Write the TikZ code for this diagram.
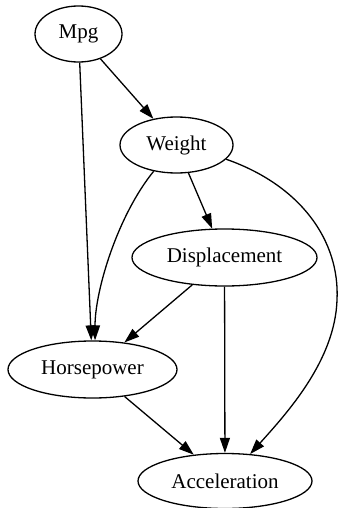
\documentclass[tikz,border=0pt]{standalone}
\usepackage{fontspec}
\setmainfont{Liberation Serif}
\usetikzlibrary{arrows.meta,shapes.geometric}
\begin{document}
\begin{tikzpicture}[x=1pt,y=-1pt,
  var/.style={draw, ellipse, line width=1.3pt, inner sep=0pt, font=\fontsize{21}{25}\selectfont},
  edge/.style={line width=1.3pt, -{Triangle[length=15pt,width=10pt]}}]
\useasboundingbox (0,0) rectangle (338,508);
\node[var, minimum width=87pt, minimum height=56pt] (mpg) at (78.5,34) {Mpg};
\node[var, minimum width=113pt, minimum height=56pt] (wt) at (176.5,145) {Weight};
\node[var, minimum width=185pt, minimum height=57pt] (disp) at (224.5,257.5) {Displacement};
\node[var, minimum width=169pt, minimum height=57pt] (hp) at (92.5,369.5) {Horsepower};
\node[var, minimum width=174pt, minimum height=55pt] (acc) at (225,481) {Acceleration};
\draw[edge] (mpg) -- (wt);
\draw[edge] (mpg) -- (hp);
\draw[edge] (wt) -- (disp);
\draw[edge] (wt.229) .. controls (118,215) and (95,290) .. (hp.85);
\draw[edge] (wt.344) .. controls (300,185) and (340,240) .. (337,300) .. controls (335,360) and (288,412) .. (acc.47);
\draw[edge] (disp) -- (hp);
\draw[edge] (disp) -- (acc);
\draw[edge] (hp) -- (acc);
\end{tikzpicture}
\end{document}
